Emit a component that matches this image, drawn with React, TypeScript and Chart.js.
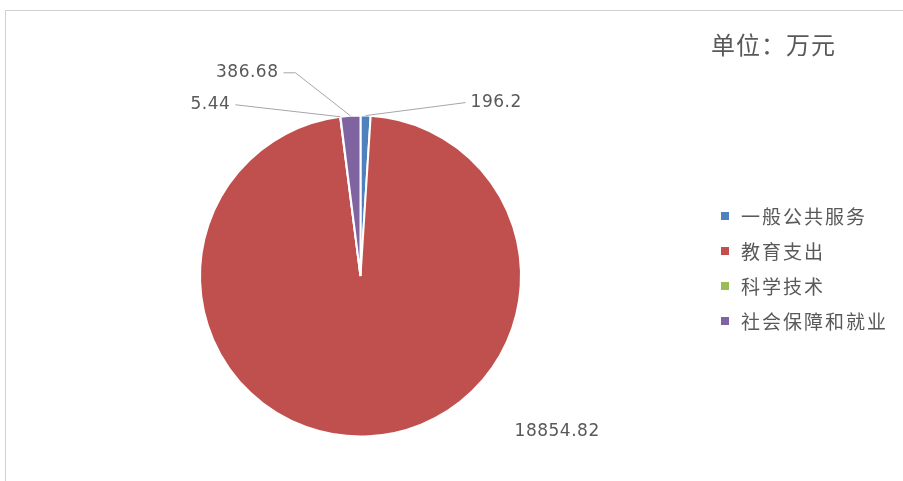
import React, { useEffect, useRef } from "react";
import { Chart, registerables } from "chart.js";

Chart.register(...registerables);

const categories = ["一般公共服务", "教育支出", "科学技术", "社会保障和就业"];
const values = [196.2, 18854.82, 5.44, 386.68];
const valueLabels = ["196.2", "18854.82", "5.44", "386.68"];
const colors = ["#4F81BD", "#C0504D", "#9BBB59", "#8064A2"];
const unitTitle = "单位：万元";

// label placement relative to each slice's outer mid point (styling only)
const labelStyle = [
  { dx: 105, dy: -13, side: "left", line: true, elbow: 0 },
  { dx: 149, dy: -5, side: "left", line: false, elbow: 0 },
  { dx: -110, dy: -12, side: "right", line: true, elbow: 0 },
  { dx: -72, dy: -43, side: "right", line: true, elbow: 12 },
];

const TEXT = "#595959";

const labelPlugin = {
  id: "pieLabels",
  afterDatasetsDraw(chart: any) {
    const ctx = chart.ctx as CanvasRenderingContext2D;
    const meta = chart.getDatasetMeta(0);
    ctx.save();
    meta.data.forEach((arc: any, i: number) => {
      const { x, y, startAngle, endAngle, outerRadius } = arc.getProps(
        ["x", "y", "startAngle", "endAngle", "outerRadius"],
        true
      );
      const mid = (startAngle + endAngle) / 2;
      const ax = x + Math.cos(mid) * outerRadius;
      const ay = y + Math.sin(mid) * outerRadius;
      const st = labelStyle[i];
      const lx = ax + st.dx;
      const ly = ay + st.dy;
      if (st.line) {
        ctx.strokeStyle = "#A6A6A6";
        ctx.lineWidth = 1;
        ctx.beginPath();
        ctx.moveTo(ax, ay);
        const gap = st.side === "left" ? -5 : 5;
        if (st.elbow) {
          ctx.lineTo(lx + gap + st.elbow, ly);
        }
        ctx.lineTo(lx + gap, ly);
        ctx.stroke();
      }
      ctx.fillStyle = TEXT;
      ctx.font = "17px 'DejaVu Sans'";
      (ctx as any).letterSpacing = "0.5px";
      ctx.textBaseline = "middle";
      ctx.textAlign = st.side === "left" ? "left" : "right";
      ctx.fillText(valueLabels[i], lx, ly);
    });
    ctx.restore();
  },
};

const legendPlugin = {
  id: "customLegend",
  afterDraw(chart: any) {
    const ctx = chart.ctx as CanvasRenderingContext2D;
    ctx.save();
    // unit title
    ctx.fillStyle = TEXT;
    ctx.font = "24px 'Noto Sans CJK SC'";
    (ctx as any).letterSpacing = "1px";
    ctx.textBaseline = "middle";
    ctx.textAlign = "left";
    ctx.fillText(unitTitle, 711, 45);
    // legend
    const labels: string[] = chart.data.labels;
    const bg: string[] = chart.data.datasets[0].backgroundColor;
    ctx.font = "19px 'Noto Sans CJK SC'";
    (ctx as any).letterSpacing = "2px";
    labels.forEach((lab, i) => {
      const cy = 216 + i * 35;
      ctx.fillStyle = bg[i];
      ctx.fillRect(721, cy - 4, 8, 8);
      ctx.fillStyle = TEXT;
      ctx.fillText(lab, 741, cy + 1);
    });
    ctx.restore();
  },
};

export default function App() {
  const ref = useRef<HTMLCanvasElement | null>(null);
  useEffect(() => {
    if (!ref.current) return;
    const chart = new Chart(ref.current, {
      type: "pie",
      data: {
        labels: categories,
        datasets: [
          {
            data: values,
            backgroundColor: colors,
            borderColor: "#ffffff",
            borderWidth: 2,
          },
        ],
      },
      options: {
        responsive: false,
        animation: false,
        devicePixelRatio: 1,
        layout: { padding: { left: 199, top: 114, right: 381, bottom: 43 } },
        plugins: {
          legend: { display: false },
          tooltip: { enabled: false },
        },
      },
      plugins: [labelPlugin, legendPlugin],
    });
    return () => chart.destroy();
  }, []);
  return (
    <div style={{ position: "absolute", left: 0, top: 0, width: 903, height: 481, background: "#fff" }}>
      <div
        style={{
          position: "absolute",
          left: 5,
          top: 10,
          right: 0,
          bottom: 0,
          borderTop: "1px solid #d0d0d0",
          borderLeft: "1px solid #d0d0d0",
        }}
      />
      <canvas ref={ref} width={903} height={481} style={{ position: "absolute", left: 0, top: 0 }} />
    </div>
  );
}
